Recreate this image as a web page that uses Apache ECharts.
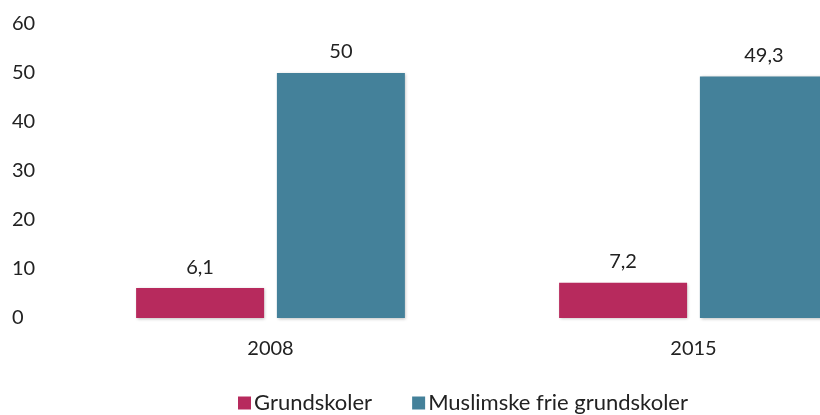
<!DOCTYPE html>
<html>
<head>
<meta charset="utf-8">
<script src="https://cdn.jsdelivr.net/npm/echarts@6/dist/echarts.min.js"></script>
<style>
	* { margin: 0; padding: 0; }
	body { background: #fff; }
</style>
</head>
<body>
<!--图表容器-->
<div id="main" style="width: 820px;height: 415px;"></div>
<script>
	var years = ['2008', '2015'];
	var grundskoler = [6.1, 7.2];
	var muslimske = [50, 49.3];
	var seriesNames = ['Grundskoler', 'Muslimske frie grundskoler'];

	var font = 'Lato';
	function komma(p) {
		return String(p.value).replace('.', ',');
	}

	var chart = echarts.init(document.getElementById('main'));
	chart.setOption({
		animation: false,
		textStyle: { fontFamily: font },
		// 第二组柱子超出画布右边
		grid: { left: 59, top: 24, width: 846, height: 294, outerBoundsMode: 'none' },
		legend: {
			data: seriesNames,
			bottom: -4,
			left: 233,
			itemWidth: 13,
			itemHeight: 13,
			itemGap: 40,
			icon: 'rect',
			textStyle: { fontSize: 22, color: '#222', fontFamily: font, padding: [0, 0, 0, -2] }
		},
		xAxis: {
			type: 'category',
			data: years,
			axisLine: { show: false },
			axisTick: { show: false },
			axisLabel: { fontSize: 20, color: '#222', margin: 21 }
		},
		yAxis: {
			type: 'value',
			min: 0,
			max: 60,
			interval: 10,
			splitLine: { show: false },
			axisLine: { show: false },
			axisTick: { show: false },
			axisLabel: { fontSize: 20, color: '#222', align: 'left', margin: 47 }
		},
		series: [{
			name: seriesNames[0],
			type: 'bar',
			data: grundskoler,
			barWidth: 128,
			barGap: '10%',
			itemStyle: { color: '#B72A5D', shadowColor: 'rgba(0,0,0,0.25)', shadowBlur: 3, shadowOffsetX: 1, shadowOffsetY: 1 },
			label: { show: true, position: 'top', distance: 11, fontSize: 20, color: '#222', formatter: komma }
		}, {
			name: seriesNames[1],
			type: 'bar',
			data: muslimske,
			barWidth: 128,
			barGap: '10%',
			itemStyle: { color: '#44819A', shadowColor: 'rgba(0,0,0,0.25)', shadowBlur: 3, shadowOffsetX: 1, shadowOffsetY: 1 },
			label: { show: true, position: 'top', distance: 11, fontSize: 20, color: '#222', formatter: komma }
		}]
	});
</script>
</body>
</html>
